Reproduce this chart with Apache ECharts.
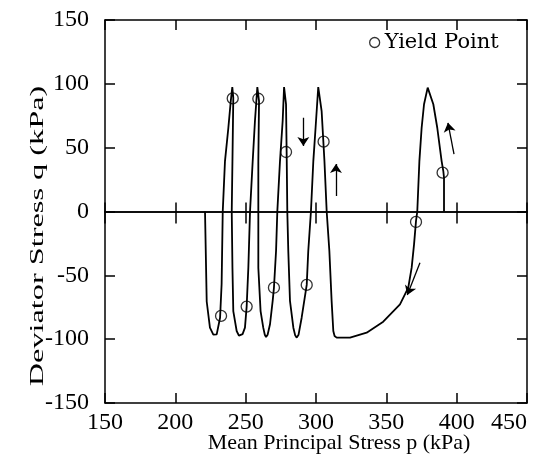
<!DOCTYPE html>
<html><head><meta charset="utf-8">
<script src="https://cdn.jsdelivr.net/npm/echarts@6/dist/echarts.min.js"></script>
<style>html,body{margin:0;padding:0;background:#fff}#c{width:556px;height:475px}</style>
</head><body><div id="c"></div>
<script>
// Stress path (mean principal stress p, deviator stress q), kPa
const curveP = [221.1,222.3,224.6,227.0,228.2,229.4,231.8,232.9,233.7,235.3,237.7,239.4,240.5,
  241.2,240.6,240.1,240.6,241.2,243.6,245.2,246.5,247.8,249.5,250.7,251.9,253.1,255.0,256.6,258.3,
  259.5,259.0,259.0,259.0,260.6,262.5,263.6,264.5,265.6,267.3,269.2,270.1,271.6,272.5,274.4,276.3,277.3,
  278.7,279.2,279.6,280.3,281.5,283.9,285.2,286.3,287.6,289.8,293.4,294.5,296.4,298.1,299.7,301.6,
  304.0,306.0,307.6,309.5,311.1,312.3,313.2,314.7,324.2,336.0,347.8,359.7,365.6,368.0,369.7,371.1,372.0,
  373.5,375.1,376.8,379.4,383.4,386.2,389.3,390.5,391.0,391.0];
const curveQ = [0,-70.5,-91,-96.5,-97.5,-96.2,-83.2,-57,0,39.5,65.6,86.5,97.5,
  89,39.5,0,-44,-78,-93.6,-97.2,-97.5,-96.0,-91,-74.5,-44,0,39.5,70.9,97.5,
  86.5,39.5,0,-44,-78,-91,-96.5,-98.3,-96.5,-88.3,-70,-59.7,-30.9,0,39.5,70.9,97.5,
  84,39.5,0,-30.9,-70,-91,-97.0,-98.8,-96.5,-83.2,-57.5,-30.9,0,39.5,65.6,97.5,
  78.7,39.5,0,-30.9,-70,-93.6,-97.5,-98.8,-98.8,-94.9,-86.3,-72.7,-59.7,-44,-25.7,-7.4,0,
  39.5,65.6,84,97,84,65.6,39.5,31.7,26.5,0];
// Yield points
const yieldP = [240.8,259.0,278.7,305.4,390.0,371.1,232.5,250.7,270.1,293.4];
const yieldQ = [88.6,88.3,46.6,54.7,30.4,-8.2,-81.8,-74.5,-59.7,-57.5];
// Direction arrows: tail -> head
const arrowTailP = [398.1,373.9,314.2,291.0];
const arrowTailQ = [45.0,-40.1,12.1,73.5];
const arrowHeadP = [393.8,364.9,314.2,291.0];
const arrowHeadQ = [69.5,-65.4,37.2,51.3];

const curve = curveP.map((p,i)=>[p,curveQ[i]]);
const yields = yieldP.map((p,i)=>[p,yieldQ[i]]);
const arrows = arrowTailP.map((p,i)=>({coords:[[p,arrowTailQ[i]],[arrowHeadP[i],arrowHeadQ[i]]]}));

const serif = 'Liberation Serif';
const lineStyle = {color:'#000', width:1.5};
const xBase = {type:'value', min:150, max:450, interval:50, splitLine:{show:false}};
const yBase = {type:'value', min:-150, max:150, interval:50, splitLine:{show:false}};
const hollow = {color:'rgba(0,0,0,0)', borderColor:'#000', borderWidth:1.3};

const chart = echarts.init(document.getElementById('c'), null, {renderer:'canvas'});
chart.setOption({
  animation:false,
  backgroundColor:'#fff',
  grid:{left:105, right:29, top:20, bottom:72},
  legend:{data:[{name:'Yield Point', icon:'circle'}], left:364, top:27, itemWidth:10, itemHeight:10,
    textStyle:{fontFamily:'DejaVu Serif', fontSize:21, color:'#000'},
    itemStyle:hollow},
  xAxis:[
    Object.assign({}, xBase, {position:'bottom', axisLine:{onZero:false, lineStyle},
      axisTick:{inside:true, length:10, lineStyle},
      axisLabel:{margin:8, fontFamily:serif, fontSize:24, color:'#000', alignMaxLabel:'right'}}),
    Object.assign({}, xBase, {position:'top', axisLine:{onZero:false, lineStyle},
      axisTick:{inside:true, length:10, lineStyle}, axisLabel:{show:false}}),
    Object.assign({}, xBase, {position:'bottom', axisLine:{onZero:true, onZeroAxisIndex:0, lineStyle},
      axisTick:{inside:true, length:9, lineStyle}, axisLabel:{show:false}}),
    Object.assign({}, xBase, {position:'bottom', axisLine:{onZero:true, onZeroAxisIndex:0, lineStyle},
      axisTick:{inside:false, length:12, lineStyle}, axisLabel:{show:false}})
  ],
  yAxis:[
    Object.assign({}, yBase, {position:'left', axisLine:{onZero:false, lineStyle},
      axisTick:{inside:true, length:10, lineStyle},
      axisLabel:{margin:16, fontFamily:serif, fontSize:24, color:'#000'}}),
    Object.assign({}, yBase, {position:'right', axisLine:{onZero:false, lineStyle},
      axisTick:{inside:true, length:10, lineStyle}, axisLabel:{show:false}})
  ],
  graphic:[
    {type:'text', x:339, y:443, style:{text:'Mean Principal Stress p (kPa)', font:'22px "Liberation Serif"', fill:'#000', textAlign:'center', textVerticalAlign:'middle'}},
    {type:'text', x:38, y:236, rotation:Math.PI/2, scaleX:1.7, scaleY:1,
      style:{text:'Deviator Stress q (kPa)', font:'19px "Liberation Serif"', fill:'#000', textAlign:'center', textVerticalAlign:'middle'}}
  ],
  series:[
    {type:'line', name:'path', data:curve, xAxisIndex:0, yAxisIndex:0, showSymbol:false, symbol:'none',
      lineStyle:{color:'#000', width:1.8}, z:3},
    {type:'scatter', name:'Yield Point', data:yields, xAxisIndex:0, yAxisIndex:0, symbol:'circle', symbolSize:11,
      itemStyle:hollow, z:4},
    {type:'lines', coordinateSystem:'cartesian2d', xAxisIndex:0, yAxisIndex:0, data:arrows,
      symbol:['none','arrow'], symbolSize:9, lineStyle:{color:'#000', width:1.3, opacity:1}, z:5}
  ]
});
</script></body></html>
